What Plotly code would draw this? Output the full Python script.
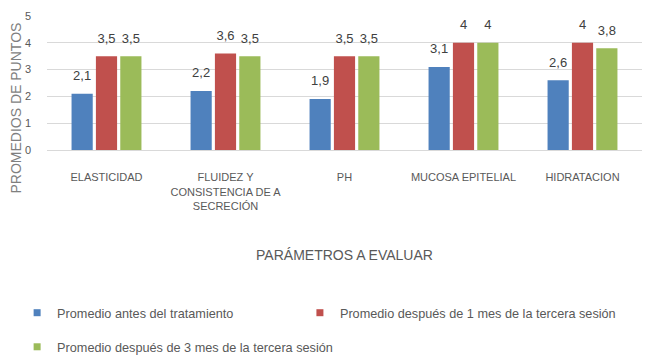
import plotly.graph_objects as go

categories = ["ELASTICIDAD", "FLUIDEZ Y<br>CONSISTENCIA DE A<br>SECRECIÓN", "PH", "MUCOSA EPITELIAL", "HIDRATACION"]
series_names = [
    "Promedio antes del tratamiento",
    "Promedio después de 1 mes de la tercera sesión",
    "Promedio después de 3 mes de la tercera sesión",
]
antes = [2.1, 2.2, 1.9, 3.1, 2.6]
mes1 = [3.5, 3.6, 3.5, 4, 4]
mes3 = [3.5, 3.5, 3.5, 4, 3.8]
y_ticks = [0, 1, 2, 3, 4, 5]
colors = ["#4F81BD", "#C0504D", "#9BBB59"]

FONT = "Liberation Sans, Arial, sans-serif"
values = [antes, mes1, mes3]
legends = ["legend", "legend2", "legend3"]

fig = go.Figure()
for name, vals, col in zip(series_names, values, colors):
    fig.add_trace(go.Bar(
        x=categories, y=vals, name=name, marker_color=col,
        showlegend=False, hoverinfo="x+y",
    ))
# value labels, aligned with bars through scattermode="group"
for name, vals in zip(series_names, values):
    fig.add_trace(go.Scatter(
        x=categories, y=vals, mode="markers+text", text=[str(v).replace(".", ",") for v in vals],
        textposition="top center", marker=dict(size=15, opacity=0),
        textfont=dict(family=FONT, size=13, color="#404040"),
        showlegend=False, hoverinfo="skip", cliponaxis=False,
    ))
# legend entries (on hidden axes so they do not take part in grouping)
for name, col, lg in zip(series_names, colors, legends):
    fig.add_trace(go.Scatter(
        x=[None], y=[None], mode="markers", name=name, legend=lg,
        xaxis="x2", yaxis="y2",
        marker=dict(symbol="square", size=7, color=col),
    ))

legfont = dict(family=FONT, size=12.7, color="#595959")
fig.update_layout(
    template="none",
    width=642, height=355,
    margin=dict(l=39, r=8, t=8, b=213, autoexpand=False),
    paper_bgcolor="white", plot_bgcolor="white",
    barmode="group", bargap=0.386, bargroupgap=0.13,
    scattermode="group",
    font=dict(family=FONT, color="#595959"),
    xaxis=dict(
        type="category", tickfont=dict(size=11, color="#595959"),
        showline=True, linecolor="#D9D9D9", linewidth=1, ticks="", showgrid=False,
        ticklabelstandoff=17, automargin=False,
        title=dict(text="PARÁMETROS A EVALUAR", font=dict(size=14, color="#595959"), standoff=39),
    ),
    yaxis=dict(
        range=[0, 5], tickvals=y_ticks, tickfont=dict(size=11, color="#595959"),
        showgrid=True, gridcolor="#D9D9D9", gridwidth=1, zeroline=False, showline=False,
        ticks="", ticklabelstandoff=15, automargin=False,
    ),
    xaxis2=dict(visible=False, overlaying="x"),
    yaxis2=dict(visible=False, overlaying="y"),
    legend=dict(orientation="h", xref="container", yref="container", x=0.0142, y=0.141,
                xanchor="left", yanchor="middle", font=legfont, bgcolor="rgba(0,0,0,0)"),
    legend2=dict(orientation="h", xref="container", yref="container", x=0.4547, y=0.141,
                 xanchor="left", yanchor="middle", font=legfont, bgcolor="rgba(0,0,0,0)"),
    legend3=dict(orientation="h", xref="container", yref="container", x=0.0142, y=0.045,
                 xanchor="left", yanchor="middle", font=legfont, bgcolor="rgba(0,0,0,0)"),
    annotations=[dict(
        text="PROMEDIOS DE PUNTOS", textangle=-90, xref="paper", yref="paper",
        x=-0.052, y=0.31, xanchor="center", yanchor="middle", showarrow=False,
        font=dict(family=FONT, size=14, color="#7F7F7F"),
    )],
)
fig.write_html("out.html")
